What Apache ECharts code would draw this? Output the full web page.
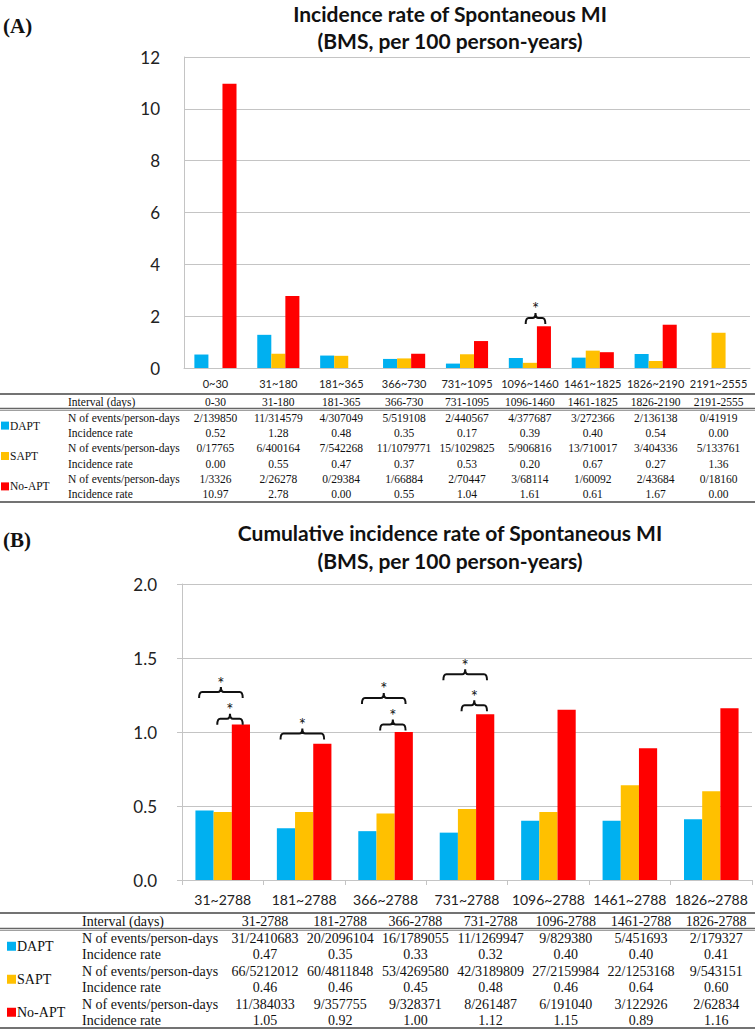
<!DOCTYPE html>
<html><head><meta charset="utf-8">
<script src="https://cdn.jsdelivr.net/npm/echarts@6/dist/echarts.min.js"></script>
<style>html,body{margin:0;padding:0;background:#fff}#c{width:755px;height:1030px}</style>
</head><body><div id="c"></div>
<script>
// ---------- DATA ----------
const seriesNames = ['DAPT', 'SAPT', 'No-APT'];
const seriesColors = ['#00B0F0', '#FFC000', '#FF0000'];

const titleA = ['Incidence rate of Spontaneous MI', '(BMS, per 100 person-years)'];
const titleB = ['Cumulative incidence rate of Spontaneous MI', '(BMS, per 100 person-years)'];

const catsA = ['0~30', '31~180', '181~365', '366~730', '731~1095', '1096~1460', '1461~1825', '1826~2190', '2191~2555'];
const intervalsA = ['0-30', '31-180', '181-365', '366-730', '731-1095', '1096-1460', '1461-1825', '1826-2190', '2191-2555'];
const eventsA_DAPT = ['2/139850', '11/314579', '4/307049', '5/519108', '2/440567', '4/377687', '3/272366', '2/136138', '0/41919'];
const rateA_DAPT = [0.52, 1.28, 0.48, 0.35, 0.17, 0.39, 0.40, 0.54, 0.00];
const eventsA_SAPT = ['0/17765', '6/400164', '7/542268', '11/1079771', '15/1029825', '5/906816', '13/710017', '3/404336', '5/133761'];
const rateA_SAPT = [0.00, 0.55, 0.47, 0.37, 0.53, 0.20, 0.67, 0.27, 1.36];
const eventsA_NoAPT = ['1/3326', '2/26278', '0/29384', '1/66884', '2/70447', '3/68114', '1/60092', '2/43684', '0/18160'];
const rateA_NoAPT = [10.97, 2.78, 0.00, 0.55, 1.04, 1.61, 0.61, 1.67, 0.00];
const yTicksA = { min: 0, max: 12, interval: 2 };

const catsB = ['31~2788', '181~2788', '366~2788', '731~2788', '1096~2788', '1461~2788', '1826~2788'];
const intervalsB = ['31-2788', '181-2788', '366-2788', '731-2788', '1096-2788', '1461-2788', '1826-2788'];
const eventsB_DAPT = ['31/2410683', '20/2096104', '16/1789055', '11/1269947', '9/829380', '5/451693', '2/179327'];
const rateB_DAPT = [0.47, 0.35, 0.33, 0.32, 0.40, 0.40, 0.41];
const eventsB_SAPT = ['66/5212012', '60/4811848', '53/4269580', '42/3189809', '27/2159984', '22/1253168', '9/543151'];
const rateB_SAPT = [0.46, 0.46, 0.45, 0.48, 0.46, 0.64, 0.60];
const eventsB_NoAPT = ['11/384033', '9/357755', '9/328371', '8/261487', '6/191040', '3/122926', '2/62834'];
const rateB_NoAPT = [1.05, 0.92, 1.00, 1.12, 1.15, 0.89, 1.16];
const yTicksB = { min: 0, max: 2, interval: 0.5 };

// significance brackets: [category index, from series, to series, height value]
const bracketsA = [[5, 1, 2, 1.93]];
const bracketsB = [[0, 0, 2, 1.27], [0, 1, 2, 1.09], [1, 0, 2, 0.99], [2, 0, 2, 1.23], [2, 1, 2, 1.05], [3, 0, 2, 1.39], [3, 1, 2, 1.18]];

const rowLabels = ['N of events/person-days', 'Incidence rate'];
const headerLabel = 'Interval (days)';

// ---------- CHART ----------
const GAP = 0.33;
const SANS = 'Lato, "Open Sans", sans-serif';
const SERIF = '"Liberation Serif", "DejaVu Serif", serif';
const chart = echarts.init(document.getElementById('c'), null, { renderer: 'svg' });

function bracketItem(params, api) {
  const cat = api.value(0), a = api.value(1), b = api.value(2), v = api.value(3);
  const p = api.coord([cat, v]);
  const band = api.size([1, 0])[0];
  const bw = band * (1 - GAP) / 3;
  const cx = i => p[0] + (i - 1) * bw;
  const x1 = cx(a) - bw * 0.3, x2 = cx(b) + bw * 0.1, y = p[1];
  const mid = (x1 + x2) / 2;
  const d = `M${x1},${y + 6} Q${x1},${y} ${x1 + 3},${y} L${mid - 3},${y} Q${mid},${y} ${mid},${y - 5} Q${mid},${y} ${mid + 3},${y} L${x2 - 3},${y} Q${x2},${y} ${x2},${y + 6}`;
  return {
    type: 'group',
    children: [
      { type: 'path', shape: { pathData: d }, style: { stroke: '#111', lineWidth: 2, fill: null } },
      { type: 'text', style: { text: '*', x: mid, y: y - 9, textAlign: 'center', textVerticalAlign: 'middle', font: '17px ' + SANS, fill: '#111' } }
    ]
  };
}

const ratesA = [rateA_DAPT, rateA_SAPT, rateA_NoAPT];
const ratesB = [rateB_DAPT, rateB_SAPT, rateB_NoAPT];

const series = [];
seriesNames.forEach((n, i) => {
  series.push({ name: n, type: 'bar', xAxisIndex: 0, yAxisIndex: 0, data: ratesA[i], barGap: '0%', barCategoryGap: (GAP * 100) + '%', itemStyle: { color: seriesColors[i] }, silent: true });
});
seriesNames.forEach((n, i) => {
  series.push({ name: n, type: 'bar', xAxisIndex: 1, yAxisIndex: 1, data: ratesB[i], barGap: '0%', barCategoryGap: (GAP * 100) + '%', itemStyle: { color: seriesColors[i] }, silent: true });
});
series.push({ type: 'custom', xAxisIndex: 0, yAxisIndex: 0, data: bracketsA, encode: { x: 0, y: 3 }, renderItem: bracketItem, z: 10, silent: true });
series.push({ type: 'custom', xAxisIndex: 1, yAxisIndex: 1, data: bracketsB, encode: { x: 0, y: 3 }, renderItem: bracketItem, z: 10, silent: true });

const gridColor = '#C4C4C4';
chart.setOption({
  animation: false,
  backgroundColor: '#fff',
  grid: [
    { left: 184, top: 57, width: 566, height: 311 },
    { left: 182, top: 584, width: 570, height: 296 }
  ],
  xAxis: [
    { type: 'category', gridIndex: 0, data: catsA, axisLine: { lineStyle: { color: gridColor } }, axisTick: { show: false },
      axisLabel: { fontFamily: SANS, fontSize: 11, color: '#222', margin: 10, interval: 0 } },
    { type: 'category', gridIndex: 1, data: catsB, axisLine: { lineStyle: { color: gridColor } }, axisTick: { show: true, length: 5, lineStyle: { color: gridColor } },
      axisLabel: { fontFamily: SANS, fontSize: 14, color: '#222', margin: 12, interval: 0 } }
  ],
  yAxis: [
    { type: 'value', gridIndex: 0, min: yTicksA.min, max: yTicksA.max, interval: yTicksA.interval,
      axisLine: { show: true, lineStyle: { color: gridColor } }, axisTick: { show: false },
      splitLine: { lineStyle: { color: gridColor, width: 1 } },
      axisLabel: { fontFamily: SANS, fontSize: 17, color: '#222', margin: 24 } },
    { type: 'value', gridIndex: 1, min: yTicksB.min, max: yTicksB.max, interval: yTicksB.interval,
      axisLine: { show: true, lineStyle: { color: gridColor } }, axisTick: { show: true, length: 5, lineStyle: { color: gridColor } },
      splitLine: { lineStyle: { color: gridColor, width: 1 } },
      axisLabel: { fontFamily: SANS, fontSize: 17, color: '#222', margin: 25, formatter: v => v.toFixed(1) } }
  ],
  series: series
});

// ---------- TITLES & TABLES (graphic) ----------
const g = [];
function txt(text, x, y, font, align) {
  g.push({ type: 'text', silent: true, style: { text: text, x: x, y: y, font: font, fill: '#111', textAlign: align || 'left', textVerticalAlign: 'middle' } });
}
function hline(y, w, color) {
  g.push({ type: 'line', silent: true, shape: { x1: 0, y1: y, x2: 755, y2: y }, style: { stroke: color || '#555', lineWidth: w || 1.5 } });
}
function square(x, y, s, color) {
  g.push({ type: 'rect', silent: true, shape: { x: x, y: y - s / 2, width: s, height: s }, style: { fill: color } });
}

const TITLE_FONT = 'bold 21px ' + SANS;
const TITLE_X = 450;
txt('(A)', 3, 26, 'bold 21px ' + SERIF, 'left');
txt(titleA[0], TITLE_X, 13, TITLE_FONT, 'center');
txt(titleA[1], TITLE_X, 40, TITLE_FONT, 'center');
txt('(B)', 3, 540, 'bold 21px ' + SERIF, 'left');
txt(titleB[0], TITLE_X, 532, TITLE_FONT, 'center');
txt(titleB[1], TITLE_X, 560, TITLE_FONT, 'center');

function drawTable(cfg) {
  const f = cfg.fontSize + 'px ' + SERIF;
  hline(cfg.top, 1.6, '#444');
  txt(headerLabel, cfg.labelX, cfg.headerY, f, 'left');
  hline(cfg.headerLine, 1.4, '#666');
  hline(cfg.headerLine + 2, 0.8, '#888');
  cfg.cols.forEach((cx, j) => txt(cfg.intervals[j], cx, cfg.headerY, f, 'center'));
  seriesNames.forEach((name, s) => {
    const y1 = cfg.rowY0 + (2 * s) * cfg.rowH;
    const y2 = y1 + cfg.rowH;
    const ym = (y1 + y2) / 2;
    square(cfg.sqX, ym, cfg.sqSize, seriesColors[s]);
    txt(name, cfg.sqX + cfg.sqSize + 1, ym, f, 'left');
    txt(rowLabels[0], cfg.labelX, y1, f, 'left');
    txt(rowLabels[1], cfg.labelX, y2, f, 'left');
    cfg.cols.forEach((cx, j) => {
      txt(cfg.events[s][j], cx, y1, f, 'center');
      txt(cfg.rates[s][j].toFixed(2), cx, y2, f, 'center');
    });
  });
  hline(cfg.bottom, 1.6, '#444');
}

// Table A columns follow the category axis positions
const colsA = catsA.map((c, i) => chart.convertToPixel({ xAxisIndex: 0 }, i));
drawTable({
  top: 394, headerY: 402, headerLine: 408.5, rowY0: 418, rowH: 15.2, bottom: 502,
  labelX: 68, fontSize: 11.5, sqX: 1, sqSize: 8,
  cols: colsA, intervals: intervalsA,
  events: [eventsA_DAPT, eventsA_SAPT, eventsA_NoAPT], rates: ratesA
});

// Table B columns sit in their own evenly spaced grid
const colB0 = 265, colBStep = 75.2;
const colsB = intervalsB.map((c, i) => colB0 + i * colBStep);
drawTable({
  top: 913, headerY: 921.5, headerLine: 928.5, rowY0: 938, rowH: 16.5, bottom: 1028,
  labelX: 82, fontSize: 14, sqX: 7, sqSize: 9,
  cols: colsB, intervals: intervalsB,
  events: [eventsB_DAPT, eventsB_SAPT, eventsB_NoAPT], rates: ratesB
});

chart.setOption({ graphic: { elements: g } });
</script>
</body></html>
